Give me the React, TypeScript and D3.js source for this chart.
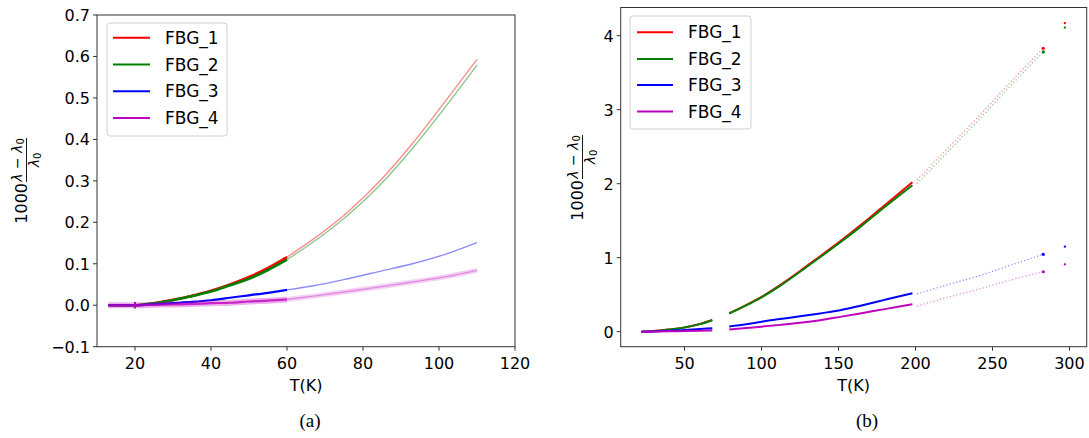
import React from 'react';
import * as d3 from 'd3';

// ---------- shared ----------
const seriesNames = ['FBG_1', 'FBG_2', 'FBG_3', 'FBG_4'];
const seriesColors = ['#ff0000', '#008000', '#0000ff', '#bf00bf'];

// ---------- panel (a) ----------
const aXTicks = [20, 40, 60, 80, 100, 120];
const aYTicks = [-0.1, 0.0, 0.1, 0.2, 0.3, 0.4, 0.5, 0.6, 0.7];

const aDenseT = [13, 20, 25, 30, 35, 40, 45, 50, 55, 60];
const aDenseFBG1 = [0.0, 0.0, 0.005, 0.013, 0.023, 0.035, 0.05, 0.068, 0.09, 0.116];
const aDenseFBG2 = [0.0, 0.0, 0.005, 0.012, 0.022, 0.033, 0.048, 0.064, 0.085, 0.11];
const aDenseFBG3 = [0.0, 0.0, 0.002, 0.005, 0.008, 0.012, 0.018, 0.024, 0.03, 0.037];
const aDenseFBG4 = [0.0, 0.0, 0.001, 0.002, 0.003, 0.005, 0.006, 0.009, 0.011, 0.014];

const aSparseT = [60, 67, 76, 85, 93, 102, 110];
const aSparseFBG1 = [0.116, 0.16, 0.225, 0.305, 0.39, 0.496, 0.593];
const aSparseFBG2 = [0.11, 0.153, 0.217, 0.295, 0.378, 0.482, 0.579];
const aSparseFBG3 = [0.037, 0.047, 0.064, 0.083, 0.1, 0.124, 0.151];
const aSparseFBG4 = [0.014, 0.022, 0.033, 0.045, 0.056, 0.069, 0.084];

// cluster of FBG_4 readings at 20 K
const aSpikeT = [20];
const aSpikeLo = [-0.008];
const aSpikeHi = [0.008];

// ---------- panel (b) ----------
const bXTicks = [50, 100, 150, 200, 250, 300];
const bYTicks = [0, 1, 2, 3, 4];

const bSeg1T = [22, 30, 40, 50, 60, 68];
const bSeg1FBG1 = [0.0, 0.008, 0.03, 0.058, 0.105, 0.158];
const bSeg1FBG2 = [0.0, 0.008, 0.028, 0.056, 0.102, 0.155];
const bSeg1FBG3 = [0.0, 0.004, 0.012, 0.024, 0.036, 0.046];
const bSeg1FBG4 = [0.0, 0.002, 0.005, 0.009, 0.013, 0.017];

const bSeg2T = [79, 90, 100, 112, 125, 138, 151, 165, 180, 198];
const bSeg2FBG1 = [0.25, 0.36, 0.47, 0.63, 0.82, 1.02, 1.22, 1.45, 1.71, 2.02];
const bSeg2FBG2 = [0.245, 0.355, 0.465, 0.62, 0.81, 1.005, 1.205, 1.43, 1.685, 1.98];
const bSeg2FBG3 = [0.07, 0.1, 0.135, 0.17, 0.207, 0.247, 0.29, 0.355, 0.43, 0.52];
const bSeg2FBG4 = [0.03, 0.05, 0.068, 0.092, 0.12, 0.155, 0.2, 0.25, 0.305, 0.37];

const bSeg3T = [201, 220, 242, 262, 283];
const bSeg3FBG1 = [2.05, 2.46, 2.93, 3.38, 3.83];
const bSeg3FBG2 = [2.0, 2.41, 2.88, 3.33, 3.78];
const bSeg3FBG3 = [0.51, 0.63, 0.76, 0.9, 1.046];
const bSeg3FBG4 = [0.347, 0.46, 0.58, 0.7, 0.81];

const bLastT = [297];
const bLastFBG1 = [4.17];
const bLastFBG2 = [4.11];
const bLastFBG3 = [1.15];
const bLastFBG4 = [0.91];

const FONT = '"DejaVu Sans", sans-serif';
const SERIF = '"Liberation Serif", "Times New Roman", serif';
const SPINE = '#333';

type Pt = [number, number];
const zip = (t: number[], v: number[]): Pt[] => t.map((x, i) => [x, v[i]]);

function Axes({ x, y, left, right, top, bottom, xTicks, yTicks, yFmt }: any) {
  return (
    <g>
      <rect x={left} y={top} width={right - left} height={bottom - top} fill="none" stroke={SPINE} strokeWidth={1} />
      {xTicks.map((t: number) => (
        <g key={'x' + t}>
          <line x1={x(t)} x2={x(t)} y1={bottom} y2={bottom + 4} stroke={SPINE} strokeWidth={1} />
          <text x={x(t)} y={bottom + 22} textAnchor="middle" fontSize={16} fontFamily={FONT} fill="#000">{t}</text>
        </g>
      ))}
      {yTicks.map((t: number) => (
        <g key={'y' + t}>
          <line x1={left - 4} x2={left} y1={y(t)} y2={y(t)} stroke={SPINE} strokeWidth={1} />
          <text x={left - 7} y={y(t) + 6} textAnchor="end" fontSize={16} fontFamily={FONT} fill="#000">{yFmt(t)}</text>
        </g>
      ))}
    </g>
  );
}

function YLabel({ x, y }: { x: number; y: number }) {
  return (
    <g transform={`translate(${x},${y}) rotate(-90)`} fontFamily={FONT} fill="#000">
      <text x={0} y={0} textAnchor="end" fontSize={16}>1000</text>
      <text x={23} y={-5} textAnchor="middle" fontSize={14}>
        <tspan fontStyle="italic">λ</tspan> − <tspan fontStyle="italic">λ</tspan>
        <tspan fontSize={10} dy={2}>0</tspan>
      </text>
      <line x1={1} x2={45} y1={-0.5} y2={-0.5} stroke="#000" strokeWidth={0.9} />
      <text x={23} y={12} textAnchor="middle" fontSize={14}>
        <tspan fontStyle="italic">λ</tspan>
        <tspan fontSize={10} dy={2}>0</tspan>
      </text>
    </g>
  );
}

function Legend({ x0, y0, w, h, rowY, lineX0, lineX1, textX }: any) {
  return (
    <g>
      <rect x={x0} y={y0} width={w} height={h} rx={3} fill="#fff" fillOpacity={0.8} stroke="#d0d0d0" strokeWidth={1} />
      {seriesNames.map((n, i) => (
        <g key={n}>
          <line x1={lineX0} x2={lineX1} y1={rowY[i]} y2={rowY[i]} stroke={seriesColors[i]} strokeWidth={2} />
          <text x={textX} y={rowY[i] + 6} fontSize={17} fontFamily={FONT} fill="#000">{n}</text>
        </g>
      ))}
    </g>
  );
}

export default function App() {
  // panel (a)
  const aL = 97, aR = 515, aT = 15, aB = 346.7;
  const ax = d3.scaleLinear().domain([10, 120]).range([aL, aR]);
  const ay = d3.scaleLinear().domain([-0.1, 0.7]).range([aB, aT]);
  const aLine = d3.line<Pt>().x(d => ax(d[0])).y(d => ay(d[1])).curve(d3.curveMonotoneX);

  const aDense = [aDenseFBG1, aDenseFBG2, aDenseFBG3, aDenseFBG4];
  const aSparse = [aSparseFBG1, aSparseFBG2, aSparseFBG3, aSparseFBG4];

  // panel (b)
  const bL = 620.7, bR = 1086.7, bT = 7.5, bB = 346.7;
  const bx = d3.scaleLinear().domain([8.5, 311.2]).range([bL, bR]);
  const by = d3.scaleLinear().domain([-0.203, 4.381]).range([bB, bT]);
  const bLine = d3.line<Pt>().x(d => bx(d[0])).y(d => by(d[1])).curve(d3.curveMonotoneX);

  const bSeg1 = [bSeg1FBG1, bSeg1FBG2, bSeg1FBG3, bSeg1FBG4];
  const bSeg2 = [bSeg2FBG1, bSeg2FBG2, bSeg2FBG3, bSeg2FBG4];
  const bSeg3 = [bSeg3FBG1, bSeg3FBG2, bSeg3FBG3, bSeg3FBG4];
  const bLast = [bLastFBG1, bLastFBG2, bLastFBG3, bLastFBG4];

  const fmtA = (d: number) => (d < 0 ? '\u2212' + Math.abs(d).toFixed(1) : d.toFixed(1));
  const fmtB = (d: number) => String(d);

  return (
    <svg width={1089} height={438} style={{ position: 'absolute', left: 0, top: 0, background: '#fff' }}>
      <rect width={1089} height={438} fill="#fff" />
      {/* ---------------- panel (a) ---------------- */}
      <g>
        {aSparse.map((v, i) => (
          <g key={'as' + i}>
            {i === 3 && (
              <path d={aLine(zip(aSparseT, v)) || ''} fill="none" stroke={seriesColors[i]} strokeOpacity={0.18} strokeWidth={5} />
            )}
            <path d={aLine(zip(aSparseT, v)) || ''} fill="none" stroke={seriesColors[i]} strokeOpacity={i === 3 ? 0.35 : 0.45} strokeWidth={1.4} />
          </g>
        ))}
        {aDense.map((v, i) => (
          <g key={'ad' + i}>
            {i === 3 && (
              <path d={aLine(zip(aDenseT, v)) || ''} fill="none" stroke={seriesColors[i]} strokeOpacity={0.3} strokeWidth={6} />
            )}
            <path d={aLine(zip(aDenseT, v)) || ''} fill="none" stroke={seriesColors[i]} strokeWidth={i < 2 ? 2.6 : 2.2} strokeOpacity={i === 3 ? 0.8 : 1} />
          </g>
        ))}
        {aSpikeT.map((t, i) => (
          <line key={'sp' + i} x1={ax(t)} x2={ax(t)} y1={ay(aSpikeLo[i])} y2={ay(aSpikeHi[i])} stroke={seriesColors[3]} strokeWidth={2} />
        ))}
        <Axes x={ax} y={ay} left={aL} right={aR} top={aT} bottom={aB} xTicks={aXTicks} yTicks={aYTicks} yFmt={fmtA} />
        <Legend x0={107} y0={23} w={120} h={113} rowY={[37.7, 64.5, 91.2, 118]} lineX0={113} lineX1={150} textX={165} />
        <text x={(aL + aR) / 2} y={391} textAnchor="middle" fontSize={16} fontFamily={FONT}>T(K)</text>
        <YLabel x={27} y={183} />
        <text x={310} y={427} textAnchor="middle" fontSize={19} fontFamily={SERIF}>(a)</text>
      </g>

      {/* ---------------- panel (b) ---------------- */}
      <g>
        {bSeg3.map((v, i) => (
          <path key={'b3' + i} d={bLine(zip(bSeg3T, v)) || ''} fill="none" stroke={seriesColors[i]} strokeOpacity={0.45} strokeWidth={1.3} strokeDasharray="1.2 2.2" />
        ))}
        {bSeg3.map((v, i) => (
          <circle key={'b3e' + i} cx={bx(bSeg3T[bSeg3T.length - 1])} cy={by(v[v.length - 1])} r={1.6} fill={seriesColors[i]} />
        ))}
        {bLast.map((v, i) => (
          <rect key={'bl' + i} x={bx(bLastT[0]) - 1} y={by(v[0]) - 1} width={2} height={2} fill={seriesColors[i]} />
        ))}
        {[bSeg1, bSeg2].map((seg, k) =>
          seg.map((v, i) => (
            <path key={'b' + k + i} d={bLine(zip(k === 0 ? bSeg1T : bSeg2T, v)) || ''} fill="none" stroke={seriesColors[i]} strokeWidth={2} />
          ))
        )}
        <Axes x={bx} y={by} left={bL} right={bR} top={bT} bottom={bB} xTicks={bXTicks} yTicks={bYTicks} yFmt={fmtB} />
        <Legend x0={630} y0={16} w={121} h={113} rowY={[32.3, 59, 85, 111.5]} lineX0={637} lineX1={673} textX={688} />
        <text x={(bL + bR) / 2} y={391} textAnchor="middle" fontSize={16} fontFamily={FONT}>T(K)</text>
        <YLabel x={583} y={180} />
        <text x={867} y={427} textAnchor="middle" fontSize={19} fontFamily={SERIF}>(b)</text>
      </g>
    </svg>
  );
}
